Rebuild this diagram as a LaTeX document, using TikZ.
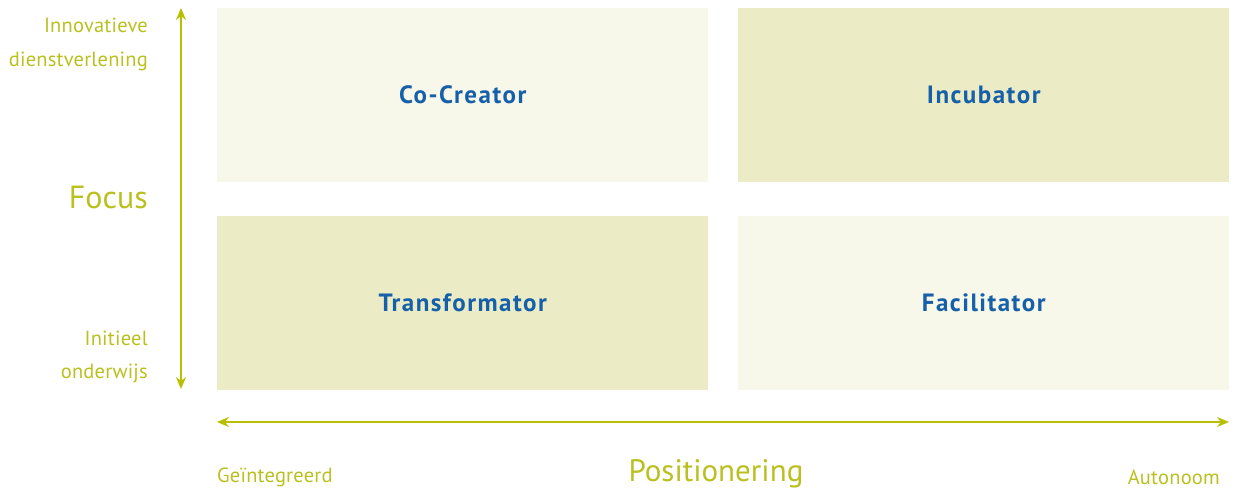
\documentclass[tikz,border=0pt]{standalone}
\usepackage{fontspec}
\setmainfont{PT Sans}
\usetikzlibrary{arrows.meta}
\definecolor{lime}{HTML}{B8BE00}
\definecolor{limetext}{HTML}{B9C020}
\definecolor{boxlight}{HTML}{F7F8EA}
\definecolor{boxdark}{HTML}{EBECC6}
\definecolor{labelblue}{HTML}{1560A8}
\tikzset{
  quad/.style={minimum width=491pt,minimum height=174pt,inner sep=0pt,anchor=north west,
    text=labelblue,font=\fontsize{25}{28}\selectfont\bfseries\addfontfeature{LetterSpace=6}},
  axis/.style={draw=lime,line width=1.6pt,{Stealth[length=12pt,width=10pt]}-{Stealth[length=12pt,width=10pt]}},
  small/.style={text=limetext,font=\fontsize{20.5}{24}\selectfont\addfontfeature{LetterSpace=1},inner sep=0pt},
  big/.style={text=limetext,font=\fontsize{31}{34}\selectfont,inner sep=0pt}
}
\begin{document}
\begin{tikzpicture}[x=1pt,y=-1pt]
\useasboundingbox (0,0) rectangle (1236,493);
\node[quad,fill=boxlight] (cc) at (217,8) {Co-Creator};
\node[quad,fill=boxdark] (inc) at (738,8) {Incubator};
\node[quad,fill=boxdark] (tr) at (217,216) {Transformator};
\node[quad,fill=boxlight] (fa) at (738,216) {Facilitator};
\coordinate (vt) at (181,8);
\coordinate (vb) at (181,389);
\coordinate (hl) at (217,422);
\coordinate (hr) at (1229,422);
\draw[axis] (vb) -- (vt);
\draw[axis] (hl) -- (hr);
\node[small,anchor=east] (inn) at (148,25) {Innovatieve};
\node[small,anchor=east] (dv) at (148,61) {dienstverlening};
\node[big,anchor=east,font=\fontsize{32}{36}\selectfont] (focus) at (148,197) {Focus};
\node[small,anchor=east] (ini) at (148,338) {Initieel};
\node[small,anchor=east] (ow) at (148,373) {onderwijs};
\node[small,anchor=west] (gi) at (217,477) {Geïntegreerd};
\node[big] (pos) at (716,474) {Positionering};
\node[small,anchor=east] (aut) at (1220,477) {Autonoom};
\end{tikzpicture}
\end{document}
